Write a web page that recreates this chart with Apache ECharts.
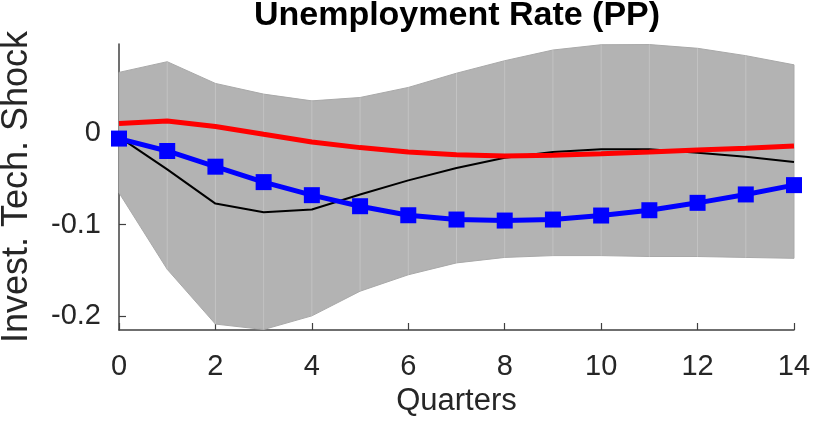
<!DOCTYPE html>
<html>
<head>
<meta charset="utf-8">
<script src="https://cdn.jsdelivr.net/npm/echarts@6/dist/echarts.min.js"></script>
<style>
html,body{margin:0;padding:0;background:#fff;}
#chart{width:813px;height:425px;}
</style>
</head>
<body>
<div id="chart"></div>
<script>
const quarters = [0,1,2,3,4,5,6,7,8,9,10,11,12,13,14];
const bandUpper = [0.0667,0.0784,0.0546,0.0429,0.0355,0.0392,0.0502,0.0658,0.0795,0.0912,0.0970,0.0972,0.0931,0.0850,0.0750];
const bandLower = [-0.0652,-0.149,-0.209,-0.215,-0.200,-0.173,-0.155,-0.142,-0.136,-0.134,-0.134,-0.135,-0.135,-0.136,-0.137];
const redLine = [0.0107,0.0135,0.0074,-0.0011,-0.0095,-0.0157,-0.0205,-0.0235,-0.025,-0.024,-0.0223,-0.0205,-0.0183,-0.0165,-0.014];
const blackLine = [-0.004,-0.0396,-0.077,-0.0865,-0.0835,-0.067,-0.0516,-0.038,-0.0267,-0.0205,-0.0176,-0.0176,-0.0212,-0.0256,-0.0315];
const blueLine = [-0.0058,-0.0194,-0.0366,-0.0535,-0.0678,-0.0799,-0.0898,-0.0945,-0.0956,-0.0945,-0.0901,-0.0843,-0.0762,-0.067,-0.0568];
const yTicks = [-0.2,-0.1,0];
const xTicks = [0,2,4,6,8,10,12,14];

const FONT = 'Liberation Sans, Arial, Helvetica, sans-serif';
const TXT = '#262626';
const pairs = a => quarters.map((q,i)=>[q,a[i]]);

const chart = echarts.init(document.getElementById('chart'), null, {renderer:'canvas'});
chart.setOption({
  animation:false,
  backgroundColor:'#ffffff',
  title:{
    text:'Unemployment Rate (PP)',
    left:457, top:-1, textAlign:'center', padding:0,
    textStyle:{fontFamily:FONT, fontWeight:'bold', fontSize:34, color:'#000'}
  },
  grid:{left:119, right:19, top:44, bottom:95, containLabel:false, outerBoundsMode:'none'},
  xAxis:{
    type:'value', min:0, max:14, interval:2,
    name:'Quarters', nameLocation:'middle', nameGap:49,
    nameTextStyle:{fontFamily:FONT, fontSize:31, color:TXT},
    axisLine:{show:true, onZero:false, lineStyle:{color:'#404040', width:1.5}},
    axisTick:{show:true, inside:true, length:7, lineStyle:{color:'#404040', width:1.2}, customValues:xTicks},
    axisLabel:{fontFamily:FONT, fontSize:29, color:TXT, margin:22, customValues:xTicks},
    splitLine:{show:false}
  },
  yAxis:{
    type:'value', min:-0.2155, max:0.0978,
    name:'Invest. Tech. Shock', nameLocation:'middle', nameGap:84, nameRotate:90,
    nameTextStyle:{fontFamily:FONT, fontSize:36, color:TXT},
    axisLine:{show:true, onZero:false, lineStyle:{color:'#404040', width:1.5}},
    axisTick:{show:true, inside:true, length:7, lineStyle:{color:'#404040', width:1.2}, customValues:yTicks},
    axisLabel:{fontFamily:FONT, fontSize:29, color:TXT, margin:18, customValues:yTicks, padding:[8,0,0,0],
      formatter:v=>String(Math.round(v*10)/10)},
    splitLine:{show:false}
  },
  series:[
    {
      type:'custom', name:'band', data:[0], z:1, silent:true,
      renderItem:function(params, api){
        const up = quarters.map((q,i)=>api.coord([q,bandUpper[i]]));
        const lo = quarters.map((q,i)=>api.coord([q,bandLower[i]])).reverse();
        const children = [{
          type:'polygon', shape:{points:up.concat(lo)},
          style:{fill:'#b3b3b3', stroke:'#a9a9a9', lineWidth:1}
        }];
        for(let i=1;i<quarters.length-1;i++){
          const a = api.coord([quarters[i],bandUpper[i]]);
          const b = api.coord([quarters[i],bandLower[i]]);
          children.push({type:'line', shape:{x1:a[0],y1:a[1],x2:b[0],y2:b[1]},
            style:{stroke:'#c6c6c6', lineWidth:0.8}});
        }
        return {type:'group', children:children};
      }
    },
    {type:'line', name:'black', data:pairs(blackLine), symbol:'none', z:3,
      lineStyle:{color:'#000000', width:2}},
    {type:'line', name:'red', data:pairs(redLine), symbol:'none', z:4,
      lineStyle:{color:'#ff0000', width:5}},
    {type:'line', name:'blue', data:pairs(blueLine), symbol:'rect', symbolSize:16, z:5,
      itemStyle:{color:'#0000ff'}, lineStyle:{color:'#0000ff', width:5}}
  ]
});
</script>
</body>
</html>
